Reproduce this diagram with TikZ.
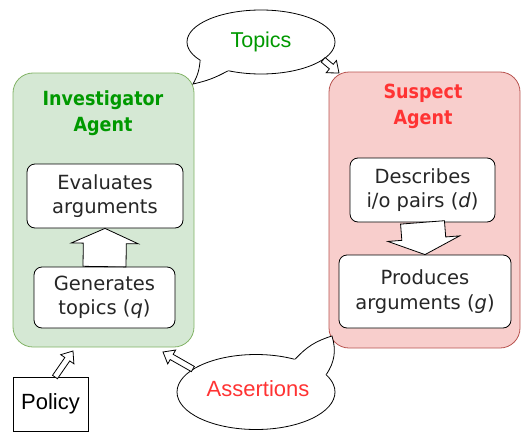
\documentclass[tikz,border=0pt]{standalone}
\usepackage{fontspec}
\setmainfont{DejaVu Sans}
\newfontfamily\arialfont{Liberation Sans}
\newfontfamily\titlefont[FakeStretch=0.9]{DejaVu Sans}
\usetikzlibrary{calc,shapes.geometric}
\definecolor{gfill}{HTML}{D5E8D4}
\definecolor{gdraw}{HTML}{82B366}
\definecolor{rfill}{HTML}{F8CECC}
\definecolor{rdraw}{HTML}{B85450}
\definecolor{gtext}{HTML}{009900}
\definecolor{rtext}{HTML}{FF3333}
\tikzset{
  agentbox/.style={rectangle, rounded corners=20pt, line width=0.8pt, inner sep=0pt},
  innerbox/.style={rectangle, rounded corners=8pt, draw=black, fill=white, line width=0.8pt, inner sep=0pt, align=center, font=\fontsize{19.5}{24.5}\selectfont, text=black!85},
  titletext/.style={align=center, font=\titlefont\bfseries\fontsize{19.5}{26}\selectfont},
  bubble/.style={ellipse, draw=black, fill=white, line width=0.8pt, inner sep=0pt},
  bubbletext/.style={font=\arialfont\fontsize{22}{24}\selectfont},
  flexline/.style={draw=black, fill=white, line width=0.8pt, line join=miter},
  tailline/.style={draw=black, line width=0.8pt}
}
\newcommand\flexarrow[5]{%
  \path ($(#2)!#5!(#1)$) coordinate (fa-b);
  \draw[flexline] ($(#1)!#3!90:(#2)$) -- ($(fa-b)!#3!-90:(#1)$) -- ($(fa-b)!#4!-90:(#1)$) -- (#2) -- ($(fa-b)!#4!90:(#1)$) -- ($(fa-b)!#3!90:(#1)$) -- ($(#1)!#3!-90:(#2)$) -- cycle;}
\begin{document}
\begin{tikzpicture}[x=1pt,y=-1pt]
\useasboundingbox (0,0) rectangle (526,436);
% agent boxes
\node[agentbox, draw=gdraw, fill=gfill, minimum width=181pt, minimum height=274pt] (inv) at (103.5,210) {};
\node[agentbox, draw=rdraw, fill=rfill, minimum width=191pt, minimum height=276pt] (sus) at (424.5,210) {};
\node[titletext, text=gtext] (invt) at (103,113) {Investigator\\Agent};
\node[titletext, text=rtext] (sust) at (423,106) {Suspect\\Agent};
% inner boxes
\node[innerbox, minimum width=156pt, minimum height=64pt] (eval) at (105,196) {Evaluates\\arguments};
\node[innerbox, minimum width=141pt, minimum height=61pt] (gen) at (104.5,297.5) {Generates\\topics (\textit{q})};
\node[innerbox, minimum width=145pt, minimum height=64pt] (desc) at (422.5,190) {Describes\\i/o pairs (\textit{d})};
\node[innerbox, minimum width=172pt, minimum height=73pt] (prod) at (425,291.5) {Produces\\arguments (\textit{g})};
% block arrows
\flexarrow{gen.north}{eval.south}{21.5pt}{33.5pt}{15pt}
\flexarrow{desc.south}{prod.north}{22pt}{36pt}{16pt}
% policy
\node[rectangle, draw=black, fill=white, line width=0.8pt, minimum width=75pt, minimum height=54pt, inner sep=0pt, bubbletext] (policy) at (50.5,404) {Policy};
% topics bubble
\node[bubble, minimum width=148pt, minimum height=64pt] (topics) at (261,42) {};
\node[bubbletext, text=gtext, font=\arialfont\fontsize{21.5}{24}\selectfont] (topicst) at (261,42) {Topics};
\coordinate (ttip) at (193,84);
\fill[white] (topics.197) to[bend left=12] (ttip) to[bend right=8] (topics.221) -- ($(topics.221)!0.1!(topics.center)$) -- ($(topics.197)!0.1!(topics.center)$) -- cycle;
\draw[tailline] (topics.197) to[bend left=12] (ttip) to[bend right=8] (topics.221);
% assertions bubble
\node[bubble, minimum width=158pt, minimum height=75pt] (assert) at (256,392) {};
\node[bubbletext, text=rtext] (assertt) at (258,389) {Assertions};
\coordinate (atip) at (332,336);
\fill[white] (assert.40) to[bend left=15] (atip) to[bend left=25] (assert.14) -- ($(assert.14)!0.1!(assert.center)$) -- ($(assert.40)!0.1!(assert.center)$) -- cycle;
\draw[tailline] (assert.40) to[bend left=15] (atip) to[bend left=25] (assert.14);
% small arrows
\coordinate (ta1) at (topics.-16);
\coordinate (ta2) at (339,73);
\flexarrow{ta1}{ta2}{3pt}{8pt}{10pt}
\coordinate (aa1) at (assert.160);
\coordinate (aa2) at (163,352);
\flexarrow{aa1}{aa2}{3pt}{8pt}{10pt}
\coordinate (pa1) at (55,377);
\coordinate (pa2) at (73,351);
\flexarrow{pa1}{pa2}{3pt}{8pt}{10pt}
\end{tikzpicture}
\end{document}
